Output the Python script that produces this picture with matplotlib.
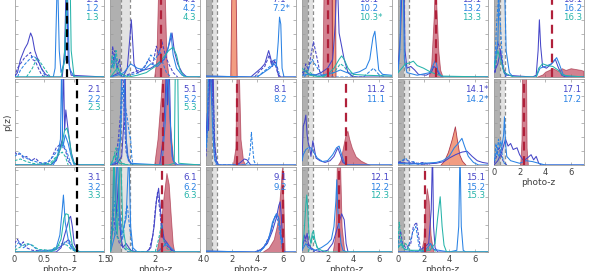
import numpy as np
import matplotlib
matplotlib.use('Agg')
from matplotlib import pyplot as plt

DARK = '#4646c8'
BLUE = '#2a82e4'
TEAL = '#26b4aa'
RED = '#b8344c'
RED_EDGE = '#a02038'
ORANGE = '#f08c6c'

# ---- panel data: (photo-z, p(z) as fraction of panel height) ----
# panel 1
p1_dark = [(0, 0), (0.05, 0.05), (0.1, 0.2), (0.17, 0.32), (0.22, 0.38), (0.27, 0.5), (0.3, 0.45), (0.34, 0.3),
           (0.4, 0.18), (0.45, 0.1), (0.52, 0.03), (0.6, 0), (0.8, 0), (0.84, 0.3), (0.87, 1.2), (0.9, 0.2),
           (0.95, 0.02), (1.5, 0)]
p1_blue = [(0, 0), (0.65, 0), (0.68, 0.1), (0.72, 1.2), (0.75, 0.3), (0.78, 0.05), (0.85, 0.2), (0.88, 1.2),
           (0.92, 0.1), (1.0, 0), (1.5, 0)]
p1_teal = [(0, 0), (0.78, 0), (0.83, 0.15), (0.88, 0.9), (0.9, 1.2), (0.93, 1.2), (0.95, 0.3), (1.0, 0), (1.5, 0)]
p1_dark_d = [(0, 0), (0.05, 0.1), (0.1, 0.15), (0.17, 0.22), (0.22, 0.25), (0.27, 0.28), (0.3, 0.2), (0.35, 0.18),
             (0.4, 0.1), (0.45, 0.03), (0.5, 0)]
p1_blue_d = [(0.05, 0), (0.1, 0.08), (0.18, 0.15), (0.25, 0.2), (0.32, 0.24), (0.38, 0.2), (0.45, 0.1), (0.5, 0.03),
             (0.55, 0)]
p1_teal_d = [(0.2, 0), (0.3, 0.1), (0.38, 0.22), (0.45, 0.15), (0.5, 0.1), (0.55, 0.05), (0.6, 0)]

# panel 2
p2_dark = [(0, 0), (0.6, 0), (0.7, 0.05), (0.75, 0.15), (0.8, 0.3), (0.82, 1.2), (0.84, 0.4), (0.86, 0.64),
           (0.9, 0.4), (0.95, 0.15), (1.0, 0.02), (1.1, 0), (1.5, 0)]
p2_blue = [(0, 0), (0.65, 0), (0.72, 0.1), (0.77, 0.3), (0.79, 1.2), (0.81, 0.2), (0.85, 0.35), (0.9, 0.25),
           (0.95, 0.1), (1.0, 0), (1.5, 0)]
p2_teal = [(0, 0), (0.6, 0), (0.7, 0.08), (0.78, 0.2), (0.84, 0.4), (0.88, 0.43), (0.92, 0.3), (0.96, 0.1),
           (1.0, 0.02), (1.05, 0), (1.5, 0)]
p2_dark_d = [(0, 0.15), (0.05, 0.12), (0.1, 0.13), (0.15, 0.08), (0.2, 0.1), (0.28, 0.05), (0.35, 0.08),
             (0.42, 0.03), (0.5, 0.01), (0.6, 0.05), (0.7, 0.2), (0.78, 0.25), (0.85, 0.18), (0.9, 0.05), (0.95, 0)]
p2_blue_d = [(0, 0.1), (0.08, 0.14), (0.15, 0.1), (0.25, 0.06), (0.35, 0.04), (0.45, 0.02), (0.55, 0.03),
             (0.65, 0.1), (0.75, 0.2), (0.8, 0.27), (0.88, 0.15), (0.95, 0)]
p2_teal_d = [(0, 0.05), (0.1, 0.07), (0.2, 0.04), (0.3, 0.02), (0.4, 0.01), (0.6, 0.02), (0.7, 0.1), (0.8, 0.15),
             (0.85, 0.1), (0.9, 0)]

# panel 3
p3_dark = [(0, 0), (0.7, 0), (0.78, 0.05), (0.84, 0.2), (0.88, 0.3), (0.92, 0.4), (0.94, 0.42), (0.97, 0.3),
           (1.0, 0.1), (1.05, 0.02), (1.1, 0), (1.5, 0)]
p3_blue = [(0, 0), (0.6, 0), (0.7, 0.05), (0.76, 0.2), (0.8, 0.5), (0.82, 0.67), (0.85, 0.35), (0.9, 0.15),
           (0.95, 0.05), (1.0, 0.02), (1.1, 0), (1.5, 0)]
p3_teal = [(0, 0), (0.6, 0), (0.7, 0.03), (0.78, 0.15), (0.83, 0.4), (0.86, 0.45), (0.9, 0.44), (0.93, 0.25),
           (0.97, 0.08), (1.02, 0.02), (1.1, 0), (1.5, 0)]
p3_dark_d = [(0, 0.1), (0.05, 0.15), (0.1, 0.08), (0.15, 0.12), (0.2, 0.05), (0.3, 0.02), (0.5, 0.01), (0.7, 0.03),
             (0.85, 0.1), (0.9, 0.15), (0.95, 0.1), (1.0, 0.03), (1.1, 0)]
p3_blue_d = [(0, 0.05), (0.08, 0.12), (0.15, 0.05), (0.25, 0.1), (0.32, 0.06), (0.4, 0.02), (0.6, 0.02),
             (0.75, 0.05), (0.85, 0.12), (0.92, 0.1), (1.0, 0.02), (1.1, 0)]
p3_teal_d = [(0, 0.02), (0.1, 0.06), (0.2, 0.1), (0.3, 0.08), (0.4, 0.03), (0.6, 0.02), (0.7, 0.06), (0.8, 0.1),
             (0.88, 0.08), (0.95, 0.03), (1.05, 0)]

# panel 4
p4_dark = [(0, 0), (0.4, 0.05), (0.6, 0.02), (0.75, 0.1), (0.85, 0.4), (0.93, 0.65), (0.98, 0.45), (1.05, 0.15),
           (1.2, 0.05), (1.5, 0.08), (1.8, 0.1), (2.1, 0.15), (2.4, 0.2), (2.6, 0.35), (2.75, 0.5), (2.85, 0.3),
           (3.0, 0.15), (3.2, 0.05), (3.4, 0), (4, 0)]
p4_blue = [(0, 0), (0.3, 0.02), (0.6, 0.05), (0.9, 0.15), (1.2, 0.1), (1.5, 0.08), (1.8, 0.15), (2.1, 0.12),
           (2.4, 0.2), (2.55, 0.3), (2.7, 0.5), (2.8, 0.25), (2.95, 0.1), (3.2, 0.02), (3.5, 0), (4, 0)]
p4_teal = [(0, 0), (0.3, 0.1), (0.5, 0.03), (0.8, 0), (1.2, 0.02), (1.6, 0.05), (2.0, 0.12), (2.3, 0.2),
           (2.6, 0.3), (2.8, 0.34), (2.95, 0.25), (3.1, 0.08), (3.3, 0), (4, 0)]
p4_dark_d = [(0.05, 0.1), (0.1, 0.35), (0.15, 0.15), (0.2, 0.3), (0.3, 0.1), (0.4, 0.2), (0.5, 0), (1.5, 0.1),
             (1.7, 0.2), (1.9, 0.15), (2.05, 0.35), (2.15, 0.25), (2.3, 0.4), (2.45, 0.25), (2.6, 0.15),
             (2.8, 0.05), (3.0, 0)]
p4_blue_d = [(0.05, 0.2), (0.12, 0.1), (0.2, 0.25), (0.3, 0.05), (0.5, 0), (1.3, 0.05), (1.6, 0.15), (1.8, 0.25),
             (2.0, 0.2), (2.2, 0.3), (2.35, 0.15), (2.5, 0.05), (2.7, 0)]
p4_teal_d = [(0, 0.05), (0.08, 0.25), (0.15, 0.1), (0.25, 0.3), (0.35, 0.1), (0.5, 0)]
p4_red = [(1.95, 0), (2.05, 0.2), (2.15, 1.2), (2.4, 1.2), (2.5, 0.2), (2.6, 0)]

# panel 5
p5_dark = [(0, 0), (0.3, 0.02), (0.5, 0.1), (0.6, 0.5), (0.65, 1.2), (0.7, 0.3), (0.8, 0.05), (1.0, 0), (2.2, 0),
           (2.35, 0.3), (2.45, 0.8), (2.5, 1.2), (2.55, 0.7), (2.62, 1.2), (2.7, 0.3), (2.8, 0.05), (3.0, 0), (4, 0)]
p5_blue = [(0, 0), (0.3, 0.05), (0.45, 0.3), (0.5, 1.2), (0.6, 1.2), (0.68, 0.4), (0.75, 0.1), (0.9, 0.02),
           (2.3, 0), (2.45, 0.5), (2.55, 1.2), (2.65, 0.6), (2.75, 0.1), (2.9, 0), (4, 0)]
p5_teal = [(0, 0), (0.1, 0.05), (0.2, 0.12), (0.3, 0.05), (0.4, 0.02), (0.8, 0), (2.6, 0), (2.85, 0.02),
           (2.9, 1.2), (3.0, 1.2), (3.05, 0.02), (4, 0)]
p5_dark_d = [(0.2, 0), (0.35, 0.3), (0.45, 0.6), (0.55, 1.2), (0.62, 0.5), (0.7, 0.15), (0.85, 0.05), (1.0, 0)]
p5_blue_d = [(0.3, 0), (0.45, 0.4), (0.55, 0.9), (0.65, 0.7), (0.75, 0.55), (0.82, 0.4), (0.9, 0.3), (0.95, 0.1),
             (1.0, 0)]
p5_teal_d = [(0.05, 0.02), (0.15, 0.1), (0.25, 0.2), (0.35, 0.1), (0.5, 0.02), (0.8, 0)]
p5_red = [(1.95, 0), (2.1, 0.3), (2.25, 0.8), (2.35, 1.2), (2.5, 1.2), (2.65, 0.5), (2.8, 0.05), (2.9, 0)]

# panel 6
p6_dark = [(0, 0), (0.1, 0.3), (0.15, 1.2), (0.25, 0.4), (0.35, 0.8), (0.45, 0.2), (0.55, 0.05), (0.7, 0.1),
           (0.9, 0.02), (1.2, 0), (1.6, 0), (1.8, 0.05), (1.95, 0.3), (2.05, 0.6), (2.15, 0.75), (2.2, 0.6),
           (2.3, 0.3), (2.4, 0.15), (2.55, 0.1), (2.7, 0.03), (2.9, 0), (4, 0)]
p6_blue = [(0, 0), (0.2, 0.2), (0.3, 1.2), (0.4, 0.5), (0.5, 0.2), (0.7, 0.4), (0.82, 1.2), (0.9, 0.3), (1.0, 0.05),
           (1.2, 0), (2.1, 0), (2.3, 0.05), (2.5, 0.1), (2.7, 0.05), (2.9, 0), (4, 0)]
p6_teal = [(0, 0), (0.1, 0.4), (0.15, 1.2), (0.22, 0.5), (0.3, 0.2), (0.45, 1.2), (0.55, 0.3), (0.7, 0.05),
           (1.0, 0), (4, 0)]
p6_dark_d = [(0, 0.1), (0.1, 0.5), (0.2, 0.3), (0.3, 0.2), (0.4, 0.1), (0.6, 0.05), (0.8, 0), (1.7, 0), (1.9, 0.2),
             (2.0, 0.5), (2.1, 0.7), (2.2, 0.5), (2.3, 0.2), (2.45, 0.1), (2.6, 0.05), (2.8, 0)]
p6_blue_d = [(0.05, 0.2), (0.2, 0.6), (0.3, 0.5), (0.4, 0.3), (0.55, 0.15), (0.7, 0.5), (0.75, 0.55), (0.85, 0.3),
             (1.0, 0)]
p6_teal_d = [(0, 0.1), (0.1, 0.3), (0.2, 0.2), (0.4, 0.15), (0.6, 0.05), (0.8, 0), (2.0, 0), (2.15, 0.15),
             (2.3, 0.35), (2.4, 0.1), (2.5, 0.05), (2.7, 0)]
p6_red = [(2.05, 0), (2.2, 0.2), (2.35, 0.6), (2.5, 0.93), (2.6, 0.8), (2.7, 0.4), (2.78, 0.1), (2.85, 0)]

# panel 7
p7_dark = [(0, 0.01), (3.5, 0), (3.9, 0.05), (4.3, 0.1), (4.6, 0.15), (4.9, 0.3), (5.05, 0.22), (5.2, 0.12),
           (5.35, 0.18), (5.5, 0.15), (5.6, 0.05), (5.8, 0), (7, 0)]
p7_blue = [(0, 0.01), (4.0, 0), (4.5, 0.05), (5.0, 0.1), (5.3, 0.15), (5.5, 0.12), (5.65, 0.4), (5.75, 0.68),
           (5.85, 0.6), (5.95, 0.1), (6.1, 0), (7, 0)]
p7_dark_d = [(3.8, 0), (4.2, 0.07), (4.6, 0.12), (4.95, 0.25), (5.1, 0.15), (5.3, 0.2), (5.5, 0.1), (5.7, 0)]
p7_blue_d = [(4.0, 0), (4.5, 0.06), (5.0, 0.12), (5.4, 0.2), (5.6, 0.1), (5.8, 0)]
p7_orange = [(1.9, 0), (2.0, 1.2), (2.3, 1.2), (2.4, 0)]

# panel 8
p8_dark = [(0, 0.3), (0.1, 0.6), (0.2, 0.4), (0.3, 1.2), (0.45, 0.7), (0.55, 1.2), (0.65, 0.3), (0.8, 0.05),
           (1.0, 0), (2.4, 0), (2.7, 0.03), (3.0, 0.07), (3.2, 0.06), (3.5, 0), (7, 0)]
p8_blue = [(0, 0.2), (0.1, 0.4), (0.2, 1.2), (0.35, 1.2), (0.5, 0.5), (0.6, 0.2), (0.7, 0.05), (0.9, 0), (7, 0)]
p8_dark_d = [(0, 0.1), (0.2, 0.8), (0.35, 1.2), (0.5, 0.8), (0.65, 0.1), (0.8, 0)]
p8_blue_d = [(0.05, 0.2), (0.25, 1.2), (0.4, 1.2), (0.55, 0.9), (0.7, 0.2), (0.9, 0), (3.0, 0), (3.3, 0.03),
             (3.45, 0.15), (3.55, 0.38), (3.65, 0.2), (3.75, 0.05), (3.9, 0)]
p8_red = [(2.1, 0), (2.3, 0.2), (2.4, 1.2), (2.55, 1.2), (2.7, 0.3), (2.9, 0.05), (3.1, 0)]

# panel 9
p9_dark = [(0, 0.01), (3.8, 0), (4.3, 0.03), (4.8, 0.1), (5.2, 0.25), (5.5, 0.4), (5.7, 0.55), (5.8, 0.59),
           (5.9, 0.4), (6.0, 0.1), (6.1, 0), (7, 0)]
p9_blue = [(0, 0.01), (3.9, 0), (4.4, 0.03), (4.9, 0.15), (5.2, 0.35), (5.5, 0.45), (5.7, 0.4), (5.85, 0.2),
           (6.0, 0.05), (6.1, 0), (7, 0)]
p9_dark_d = [(4.0, 0), (4.5, 0.05), (5.0, 0.2), (5.3, 0.38), (5.55, 0.45), (5.75, 0.35), (5.9, 0.15), (6.05, 0)]
p9_blue_d = [(4.2, 0), (4.7, 0.08), (5.1, 0.25), (5.4, 0.42), (5.6, 0.38), (5.8, 0.2), (6.0, 0)]
p9_red = [(4.4, 0), (4.9, 0.05), (5.3, 0.15), (5.6, 0.35), (5.8, 0.7), (5.95, 1.0), (6.05, 0.6), (6.15, 0)]

# panel 10
p10_dark = [(0, 0.05), (0.3, 0.07), (0.6, 0.03), (1.0, 0.02), (1.5, 0.05), (2.0, 0.1), (2.4, 0.2), (2.6, 0.6),
            (2.75, 1.2), (2.9, 0.5), (3.1, 0.35), (3.3, 0.2), (3.6, 0.05), (4.0, 0), (7, 0)]
p10_blue = [(0, 0.02), (0.5, 0.03), (1.5, 0.02), (2.5, 0.05), (3.0, 0.08), (3.5, 0.05), (4.0, 0.04), (4.5, 0.06),
            (5.0, 0.1), (5.3, 0.2), (5.55, 0.45), (5.7, 0.52), (5.85, 0.3), (6.0, 0.08), (6.3, 0.03), (7, 0.02)]
p10_teal = [(0, 0.1), (0.3, 0.06), (0.6, 0.02), (1.5, 0), (2.0, 0.03), (2.5, 0.1), (2.9, 0.2), (3.1, 0.24),
            (3.3, 0.2), (3.6, 0.1), (4.0, 0.03), (5.0, 0.02), (7, 0.01)]
p10_dark_d = [(0.1, 0.02), (0.3, 0.15), (0.5, 0.08), (0.7, 0.25), (0.9, 0.4), (1.05, 0.3), (1.2, 0.2), (1.4, 0.05),
              (1.6, 0)]
p10_blue_d = [(0.2, 0), (0.5, 0.1), (0.8, 0.2), (1.0, 0.15), (1.3, 0.08), (1.6, 0.02), (2.0, 0), (4.8, 0),
              (5.2, 0.05), (5.6, 0.1), (6.0, 0.03), (6.5, 0)]
p10_teal_d = [(0, 0.05), (0.4, 0.08), (0.8, 0.03), (1.5, 0), (2.5, 0.05), (3.0, 0.15), (3.3, 0.12), (3.7, 0.03),
              (4.2, 0)]
p10_red = [(1.6, 0), (1.7, 1.2), (2.3, 1.2), (2.35, 0)]
p10_orange = [(2.33, 0), (2.36, 1.2), (2.58, 1.2), (2.62, 0)]

# panel 11
p11_dark = [(0, 0.05), (0.1, 0.45), (0.2, 0.5), (0.3, 0.58), (0.4, 0.35), (0.5, 0.25), (0.6, 0.2), (0.7, 0.1),
            (0.85, 0.28), (0.95, 0.2), (1.1, 0.08), (1.4, 0.05), (1.8, 0.03), (2.2, 0.05), (2.5, 0.1), (2.8, 0.2),
            (3.0, 0.12), (3.2, 0.03), (3.5, 0), (7, 0)]
p11_blue = [(0, 0.05), (0.1, 0.12), (0.3, 0.18), (0.5, 0.2), (0.7, 0.2), (0.9, 0.15), (1.2, 0.08), (1.6, 0.04),
            (2.0, 0.05), (2.4, 0.12), (2.7, 0.2), (2.9, 0.22), (3.1, 0.12), (3.3, 0.03), (3.6, 0), (7, 0)]
p11_red = [(2.8, 0), (3.0, 0.05), (3.2, 0.2), (3.4, 0.35), (3.55, 0.4), (3.7, 0.3), (3.9, 0.2), (4.2, 0.1),
           (4.6, 0.05), (5.0, 0.02), (5.3, 0)]

# panel 12
p12_dark = [(0, 0.02), (0.2, 0.2), (0.3, 0.15), (0.4, 0.22), (0.5, 0.1), (0.7, 0.05), (1.0, 0.02), (1.5, 0),
            (2.0, 0.02), (2.4, 0.1), (2.7, 0.25), (2.9, 0.35), (3.1, 0.45), (3.3, 0.38), (3.45, 0.1), (3.6, 0), (7, 0)]
p12_blue = [(0, 0.02), (0.3, 0.1), (0.5, 0.05), (1.0, 0.02), (1.5, 0.05), (2.0, 0.1), (2.3, 0.15), (2.5, 0.3),
            (2.65, 0.6), (2.72, 0.85), (2.8, 0.5), (2.9, 0.3), (3.05, 0.1), (3.2, 0.02), (3.5, 0), (7, 0)]
p12_teal = [(0, 0.05), (0.15, 0.2), (0.3, 0.55), (0.37, 0.67), (0.45, 0.5), (0.55, 0.2), (0.7, 0.1), (0.8, 0.22),
            (0.9, 0.25), (1.0, 0.15), (1.2, 0.05), (1.5, 0.02), (2.0, 0), (7, 0)]
p12_dark_d = [(0, 0.05), (0.2, 0.15), (0.4, 0.1), (0.6, 0.05), (0.8, 0.02), (1.0, 0)]
p12_teal_d = [(0.5, 0), (0.7, 0.1), (0.85, 0.2), (1.0, 0.12), (1.2, 0.05), (1.4, 0)]
p12_red = [(2.4, 0), (2.6, 0.2), (2.75, 1.2), (2.95, 1.2), (3.1, 0.3), (3.3, 0.02), (3.5, 0)]

# panel 13
p13_dark = [(0, 0.1), (0.2, 0.5), (0.35, 1.2), (0.45, 1.2), (0.55, 0.3), (0.7, 0.1), (1.0, 0.12), (1.3, 0.08),
            (1.6, 0.03), (2.2, 0.02), (2.6, 0.05), (2.8, 0.12), (3.0, 0.1), (3.2, 0.03), (3.5, 0), (7, 0)]
p13_blue = [(0, 0.05), (0.15, 0.3), (0.25, 1.2), (0.4, 1.2), (0.5, 0.2), (0.7, 0.05), (1.5, 0.02), (2.5, 0.05),
            (2.8, 0.15), (2.95, 0.2), (3.1, 0.08), (3.4, 0), (7, 0)]
p13_teal = [(0, 0.05), (0.3, 0.1), (0.6, 0.15), (0.9, 0.16), (1.2, 0.18), (1.5, 0.13), (2.0, 0.1), (2.5, 0.06),
            (3.0, 0.03), (3.5, 0.01), (7, 0)]
p13_red = [(2.4, 0), (2.6, 0.15), (2.8, 0.7), (2.9, 1.2), (3.0, 0.8), (3.15, 0.3), (3.3, 0.08), (3.5, 0)]

# panel 14
p14_dark = [(0, 0.03), (1.0, 0.02), (2.0, 0.01), (3.0, 0.02), (3.6, 0.04), (4.0, 0.08), (4.5, 0.12), (5.0, 0.15),
            (5.4, 0.16), (5.8, 0.1), (6.2, 0.05), (6.6, 0.03), (7, 0.02)]
p14_blue = [(0, 0.02), (1.0, 0.01), (2.0, 0.02), (3.0, 0.03), (3.5, 0.05), (4.0, 0.1), (4.4, 0.2), (4.7, 0.25),
            (5.0, 0.31), (5.2, 0.22), (5.5, 0.1), (5.9, 0.03), (6.3, 0), (7, 0)]
p14_dark_d = [(0, 0.03), (0.5, 0.06), (1.0, 0.04), (1.5, 0.02), (2.0, 0.03), (2.5, 0)]
p14_blue_d = [(0, 0.02), (0.3, 0.05), (0.6, 0.08), (0.9, 0.02), (1.2, 0.04), (1.5, 0.01), (2.0, 0)]
p14_orange = [(3.3, 0), (3.6, 0.05), (3.9, 0.15), (4.2, 0.3), (4.45, 0.45), (4.6, 0.3), (4.8, 0.12), (5.0, 0.05),
              (5.3, 0)]

# panel 15
p15_dark = [(0, 0), (1.5, 0), (2.0, 0.05), (2.4, 0.1), (2.6, 0.5), (2.7, 1.2), (2.78, 0.3), (2.9, 0.05), (3.1, 0),
            (7, 0)]
p15_blue = [(0, 0), (2.0, 0), (2.3, 0.05), (2.55, 0.1), (2.8, 0.03), (4.0, 0), (4.6, 0.02), (4.75, 0.3),
            (4.85, 1.2), (4.95, 0.3), (5.1, 0.02), (5.3, 0), (7, 0)]
p15_teal = [(0, 0.05), (0.3, 0.1), (0.5, 0.03), (1.0, 0.02), (2.0, 0.02), (2.5, 0.02), (2.9, 0.1), (3.1, 0.4),
            (3.3, 0.65), (3.45, 0.3), (3.6, 0.08), (3.8, 0), (7, 0)]
p15_dark_d = [(0, 0.1), (0.2, 0.25), (0.35, 0.1), (0.6, 0.05), (1.0, 0.1), (1.2, 0.3), (1.45, 0.35), (1.6, 0.2),
              (1.75, 0.05), (2.0, 0)]
p15_blue_d = [(0, 0.05), (0.25, 0.15), (0.4, 0.05), (0.7, 0.02), (1.0, 0.15), (1.2, 0.25), (1.4, 0.3), (1.55, 0.15),
              (1.7, 0.02), (2.0, 0)]
p15_teal_d = [(0, 0.1), (0.1, 0.35), (0.2, 0.2), (0.3, 0.05), (0.6, 0.1), (0.8, 0.05), (1.0, 0.02), (1.5, 0),
              (2.3, 0), (2.5, 0.1), (2.7, 0.05), (3.0, 0)]
p15_red = [(1.8, 0), (2.0, 0.15), (2.1, 0.5), (2.25, 0.75), (2.4, 0.6), (2.55, 0.2), (2.7, 0.05), (2.8, 0)]

# panel 16
p16_dark = [(0, 0.05), (0.3, 0.15), (0.5, 0.3), (0.7, 0.1), (1.0, 0.02), (3.0, 0), (3.3, 0.02), (3.45, 0.3),
            (3.55, 0.65), (3.65, 0.35), (3.8, 0.12), (4.1, 0.1), (4.5, 0.15), (4.8, 0.2), (5.0, 0.12), (5.3, 0.02),
            (5.6, 0), (7, 0)]
p16_blue = [(0, 0.1), (0.3, 0.4), (0.45, 1.2), (0.8, 1.2), (0.95, 0.3), (1.2, 0.05), (1.5, 0), (3.3, 0),
            (3.6, 0.1), (4.0, 0.12), (4.5, 0.15), (4.9, 0.22), (5.1, 0.15), (5.4, 0.03), (5.8, 0), (7, 0)]
p16_teal = [(0, 0.1), (0.3, 0.3), (0.5, 0.2), (0.8, 0.05), (1.5, 0), (3.3, 0), (3.5, 0.1), (3.8, 0.15), (4.2, 0.13),
            (4.6, 0.12), (5.0, 0.08), (5.4, 0.02), (7, 0)]
p16_dark_d = [(0.1, 0.05), (0.3, 0.4), (0.5, 0.3), (0.7, 0.1), (0.9, 0)]
p16_blue_d = [(0.05, 0.1), (0.2, 0.6), (0.35, 0.9), (0.5, 0.6), (0.65, 0.2), (0.8, 0.05), (1.0, 0)]
p16_red = [(3.3, 0), (3.8, 0.03), (4.0, 0.06), (4.3, 0.08), (4.6, 0.1), (5.0, 0.07), (5.3, 0.1), (5.6, 0.08),
           (6.0, 0.1), (6.4, 0.09), (6.8, 0.08), (7.0, 0.07)]

# panel 17
p17_dark = [(0, 0), (0.3, 0.05), (0.6, 0.15), (0.9, 0.3), (1.1, 0.22), (1.3, 0.25), (1.5, 0.18), (1.8, 0.2),
            (2.0, 0.12), (2.3, 0.05), (2.6, 0.08), (2.9, 0.12), (3.1, 0.06), (3.3, 0.1), (3.5, 0.02), (3.7, 0), (7, 0)]
p17_blue = [(0, 0.05), (0.2, 0.15), (0.4, 0.1), (0.6, 0.2), (0.75, 0.35), (0.82, 0.56), (0.9, 0.25), (1.0, 0.1),
            (1.3, 0.05), (2.0, 0.02), (2.5, 0.05), (3.0, 0.04), (3.5, 0.02), (4.0, 0), (7, 0)]
p17_dark_d = [(0, 0.02), (0.2, 0.1), (0.4, 0.2), (0.55, 0.12), (0.7, 0.05), (1.0, 0)]
p17_blue_d = [(0.05, 0.05), (0.15, 0.25), (0.25, 0.15), (0.35, 0.3), (0.45, 0.2), (0.55, 0.28), (0.65, 0.1),
              (0.8, 0.02), (1.0, 0)]
p17_red = [(2.05, 0), (2.15, 0.3), (2.2, 1.2), (2.5, 1.2), (2.55, 0.2), (2.65, 0)]

# spectroscopic redshift markers (red dashed) and black reference lines
spec_z = {4: 2.24, 5: 2.35, 6: 2.32, 8: 2.4, 9: 6.0, 10: 2.0, 11: 3.45, 12: 2.9, 13: 2.95, 15: 2.1, 16: 4.5,
          17: 2.35}
black_z = {1: 0.88, 2: 1.05, 3: 1.05}

panel_labels = {
    1: ['1.1', '1.2', '1.3'], 2: ['2.1', '2.2', '2.3'], 3: ['3.1', '3.2', '3.3'],
    4: ['4.1', '4.2', '4.3'], 5: ['5.1', '5.2', '5.3'], 6: ['6.1', '6.2', '6.3'],
    7: ['7.1', '7.2*'], 8: ['8.1', '8.2'], 9: ['9.1', '9.2'],
    10: ['10.1', '10.2', '10.3*'], 11: ['11.2', '11.1'], 12: ['12.1', '12.2', '12.3'],
    13: ['13.1', '13.2', '13.3'], 14: ['14.1*', '14.2*'], 15: ['15.1', '15.2', '15.3'],
    16: ['16.1', '16.2', '16.3'], 17: ['17.1', '17.2'],
}

panels = {
    1: dict(solid=[p1_dark, p1_blue, p1_teal], dashed=[p1_dark_d, p1_blue_d, p1_teal_d]),
    2: dict(solid=[p2_dark, p2_blue, p2_teal], dashed=[p2_dark_d, p2_blue_d, p2_teal_d]),
    3: dict(solid=[p3_dark, p3_blue, p3_teal], dashed=[p3_dark_d, p3_blue_d, p3_teal_d]),
    4: dict(solid=[p4_dark, p4_blue, p4_teal], dashed=[p4_dark_d, p4_blue_d, p4_teal_d], red=p4_red),
    5: dict(solid=[p5_dark, p5_blue, p5_teal], dashed=[p5_dark_d, p5_blue_d, p5_teal_d], red=p5_red),
    6: dict(solid=[p6_dark, p6_blue, p6_teal], dashed=[p6_dark_d, p6_blue_d, p6_teal_d], red=p6_red),
    7: dict(solid=[p7_dark, p7_blue], dashed=[p7_dark_d, p7_blue_d], orange=p7_orange),
    8: dict(solid=[p8_dark, p8_blue], dashed=[p8_dark_d, p8_blue_d], red=p8_red),
    9: dict(solid=[p9_dark, p9_blue], dashed=[p9_dark_d, p9_blue_d], red=p9_red),
    10: dict(solid=[p10_dark, p10_blue, p10_teal], dashed=[p10_dark_d, p10_blue_d, p10_teal_d], red=p10_red,
             orange=p10_orange),
    11: dict(solid=[p11_dark, p11_blue], dashed=[], red=p11_red),
    12: dict(solid=[p12_dark, p12_blue, p12_teal], dashed=[p12_dark_d, None, p12_teal_d], red=p12_red),
    13: dict(solid=[p13_dark, p13_blue, p13_teal], dashed=[], red=p13_red),
    14: dict(solid=[p14_dark, p14_blue], dashed=[p14_dark_d, p14_blue_d], orange=p14_orange),
    15: dict(solid=[p15_dark, p15_blue, p15_teal], dashed=[p15_dark_d, p15_blue_d, p15_teal_d], red=p15_red),
    16: dict(solid=[p16_dark, p16_blue, p16_teal], dashed=[p16_dark_d, p16_blue_d], red=p16_red),
    17: dict(solid=[p17_dark, p17_blue], dashed=[p17_dark_d, p17_blue_d], red=p17_red),
}

# label left edge, pixels from the right spine
label_off = {1: 19, 2: 17, 3: 17, 4: 17, 5: 17, 6: 17, 7: 23, 8: 22, 9: 22, 10: 32, 11: 25, 12: 21,
             13: 25, 14: 22, 15: 21, 16: 20, 17: 21}

W, H = 598, 271
col_left = [14.5, 110.5, 206, 302, 398, 494]
col_w = 89.5
row_top = [-11, 79, 167]
row_bot = [77, 165, 252]
col_xlim = [(0, 1.5), (0, 4), (0, 7), (0, 7), (0, 7), (0, 7)]
colors = [DARK, BLUE, TEAL]

fig = plt.figure(figsize=(W / 100, H / 100), dpi=100)

for n in range(1, 18):
    col, row = (n - 1) // 3, (n - 1) % 3
    h_px = row_bot[row] - row_top[row]
    ax = fig.add_axes([col_left[col] / W, 1 - row_bot[row] / H, col_w / W, h_px / H])
    x0, x1 = col_xlim[col]
    ax.set_xlim(x0, x1)
    ax.set_ylim(0, 1)
    spec = panels[n]

    if col > 0:
        ax.axvspan(0, 0.47, color='#b0b0b0', lw=0, zorder=0)
        ax.axvspan(0.47, 0.85, color='#e2e2e2', lw=0, zorder=0)
        ax.axvline(0.47, color='#8c8c8c', lw=0.9, ls=(0, (3, 2)), zorder=1)
        ax.axvline(0.85, color='#8c8c8c', lw=0.9, ls=(0, (3, 2)), zorder=1)

    if 'red' in spec:
        z, p = np.array(spec['red']).T
        ax.fill_between(z, 0, p, facecolor=RED, alpha=0.62, edgecolor=RED_EDGE, lw=0.6, zorder=2)
    if 'orange' in spec:
        z, p = np.array(spec['orange']).T
        ax.fill_between(z, 0, p, facecolor=ORANGE, alpha=0.85, edgecolor=RED_EDGE, lw=0.6, zorder=2)

    for c, curve in zip(colors, spec['dashed']):
        if curve is None:
            continue
        z, p = np.array(curve).T
        ax.plot(z, p, color=c, lw=0.75, ls=(0, (3, 1.5)), zorder=3)
    for c, curve in zip(colors, spec['solid']):
        z, p = np.array(curve).T
        ax.plot(z, p, color=c, lw=0.75, zorder=4)

    if n in spec_z:
        ax.axvline(spec_z[n], color='#b0203a', lw=1.6, ls=(0, (4, 2.5)), zorder=5)
    if n in black_z:
        ax.axvline(black_z[n], color='black', lw=1.6, ls=(0, (3.5, 2.5)), zorder=5)

    for i, lab in enumerate(panel_labels[n]):
        ax.text(1 - label_off[n] / col_w, 1 - (11 + 9 * i) / h_px, lab, color=colors[i], fontsize=6.2,
                ha='left', va='center', transform=ax.transAxes, zorder=6)

    if col == 0:
        ax.set_xticks([0, 0.5, 1, 1.5])
        ax.set_xticklabels(['0', '0.5', '1', '1.5'])
    elif col == 1:
        ax.set_xticks([0, 2, 4])
    else:
        ax.set_xticks([0, 2, 4, 6])
    ax.set_yticks(np.arange(0, 1.0, 0.161))
    ax.set_yticklabels([])
    ax.tick_params(direction='in', length=2, width=0.5, top=True, right=True, colors='#9a9a9a',
                   labelcolor='#404040', labelsize=6, pad=2)
    if row == 2 or n == 17:
        ax.set_xlabel('photo-z', fontsize=6.5, color='#404040', labelpad=1)
    else:
        ax.set_xticklabels([])
    for s in ax.spines.values():
        s.set_color('#a0a0a0')
        s.set_linewidth(0.6)

fig.text(8 / W, 1 - 122 / H, 'p(z)', rotation=90, fontsize=6.5, color='#404040', ha='center', va='center')

fig.savefig('out.png', dpi=100)
